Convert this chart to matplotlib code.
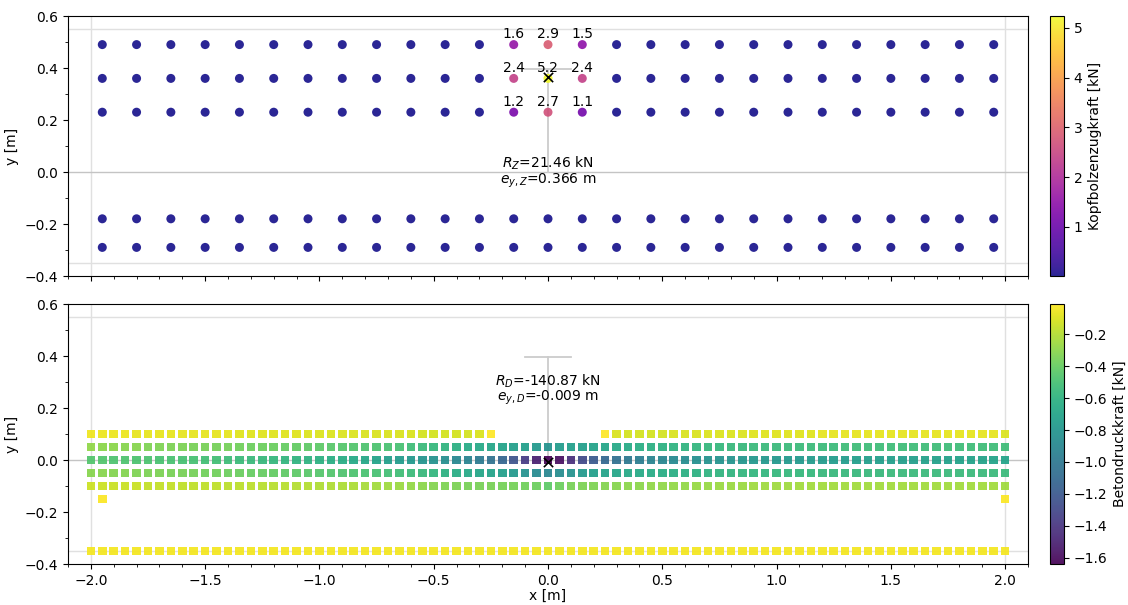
import numpy as np
import matplotlib
matplotlib.use("Agg")
import matplotlib.pyplot as plt
from matplotlib.ticker import MultipleLocator

# ---------------- data: head studs (top) ----------------
stud_x = [-1.95, -1.8, -1.65, -1.5, -1.35, -1.2, -1.05, -0.9, -0.75, -0.6, -0.45, -0.3, -0.15,
          0.0, 0.15, 0.3, 0.45, 0.6, 0.75, 0.9, 1.05, 1.2, 1.35, 1.5, 1.65, 1.8, 1.95]
stud_y = [0.49, 0.36, 0.23, -0.18, -0.29]
stud_force = [
    [0.02, 0.02, 0.02, 0.02, 0.02, 0.02, 0.02, 0.02, 0.02, 0.02, 0.02, 0.02, 1.6,
     2.9, 1.5, 0.02, 0.02, 0.02, 0.02, 0.02, 0.02, 0.02, 0.02, 0.02, 0.02, 0.02, 0.02],
    [0.02, 0.02, 0.02, 0.02, 0.02, 0.02, 0.02, 0.02, 0.02, 0.02, 0.02, 0.02, 2.4,
     5.24, 2.4, 0.02, 0.02, 0.02, 0.02, 0.02, 0.02, 0.02, 0.02, 0.02, 0.02, 0.02, 0.02],
    [0.02, 0.02, 0.02, 0.02, 0.02, 0.02, 0.02, 0.02, 0.02, 0.02, 0.02, 0.02, 1.2,
     2.7, 1.1, 0.02, 0.02, 0.02, 0.02, 0.02, 0.02, 0.02, 0.02, 0.02, 0.02, 0.02, 0.02],
    [0.01, 0.01, 0.01, 0.01, 0.01, 0.01, 0.01, 0.01, 0.01, 0.01, 0.01, 0.01, 0.01,
     0.01, 0.01, 0.01, 0.01, 0.01, 0.01, 0.01, 0.01, 0.01, 0.01, 0.01, 0.01, 0.01, 0.01],
    [0.01, 0.01, 0.01, 0.01, 0.01, 0.01, 0.01, 0.01, 0.01, 0.01, 0.01, 0.01, 0.01,
     0.01, 0.01, 0.01, 0.01, 0.01, 0.01, 0.01, 0.01, 0.01, 0.01, 0.01, 0.01, 0.01, 0.01],
]
RZ = 21.46
eyZ = 0.366

# ---------------- data: concrete compression (bottom) ----------------
grid_x = [round(-2.0 + 0.05 * i, 2) for i in range(81)]
row_p10_left_x = grid_x[:36]
row_p10_right_x = grid_x[45:]
row_p10_left = [-0.05, -0.06, -0.06, -0.06, -0.07, -0.07, -0.07, -0.07, -0.08, -0.08,
                -0.08, -0.08, -0.08, -0.09, -0.09, -0.09, -0.09, -0.09, -0.09, -0.10,
                -0.10, -0.10, -0.10, -0.10, -0.11, -0.11, -0.11, -0.11, -0.11, -0.12,
                -0.12, -0.12, -0.12, -0.12, -0.11, -0.01]
row_p10_right = [-0.01, -0.11, -0.12, -0.12, -0.12, -0.12, -0.11, -0.11, -0.11, -0.10,
                 -0.10, -0.10, -0.10, -0.09, -0.09, -0.09, -0.09, -0.09, -0.09, -0.08,
                 -0.08, -0.08, -0.08, -0.08, -0.08, -0.08, -0.08, -0.08, -0.08, -0.08,
                 -0.08, -0.08, -0.08, -0.08, -0.08, -0.10]
row_p05 = [-0.29, -0.30, -0.30, -0.31, -0.31, -0.33, -0.33, -0.34, -0.34, -0.35,
           -0.35, -0.36, -0.36, -0.37, -0.38, -0.38, -0.39, -0.40, -0.41, -0.42,
           -0.43, -0.44, -0.45, -0.46, -0.47, -0.48, -0.49, -0.50, -0.53, -0.55,
           -0.57, -0.59, -0.62, -0.65, -0.67, -0.69, -0.71, -0.73, -0.74, -0.77,
           -0.82,
           -0.76, -0.74, -0.73, -0.71, -0.69, -0.67, -0.65, -0.63, -0.62, -0.61,
           -0.60, -0.59, -0.58, -0.57, -0.57, -0.56, -0.56, -0.55, -0.55, -0.55,
           -0.54, -0.54, -0.54, -0.54, -0.54, -0.53, -0.53, -0.53, -0.53, -0.53,
           -0.53, -0.53, -0.53, -0.53, -0.53, -0.53, -0.53, -0.53, -0.53, -0.53]
row_000 = [-0.46, -0.46, -0.47, -0.47, -0.48, -0.48, -0.49, -0.49, -0.50, -0.50,
           -0.51, -0.51, -0.53, -0.54, -0.55, -0.56, -0.57, -0.58, -0.59, -0.60,
           -0.61, -0.63, -0.64, -0.66, -0.68, -0.70, -0.73, -0.76, -0.78, -0.80,
           -0.82, -0.85, -0.89, -0.93, -0.98, -1.04, -1.12, -1.23, -1.37, -1.51,
           -1.64,
           -1.58, -1.43, -1.29, -1.20, -1.11, -1.05, -1.00, -0.96, -0.92, -0.90,
           -0.88, -0.86, -0.84, -0.82, -0.81, -0.80, -0.79, -0.78, -0.78, -0.78,
           -0.77, -0.77, -0.76, -0.76, -0.75, -0.75, -0.74, -0.74, -0.74, -0.73,
           -0.73, -0.73, -0.72, -0.72, -0.72, -0.71, -0.71, -0.71, -0.70, -0.70]
row_m05 = [-0.31, -0.31, -0.32, -0.32, -0.33, -0.34, -0.34, -0.35, -0.35, -0.36,
           -0.37, -0.37, -0.38, -0.39, -0.40, -0.40, -0.41, -0.42, -0.43, -0.44,
           -0.45, -0.46, -0.47, -0.48, -0.49, -0.50, -0.51, -0.52, -0.54, -0.56,
           -0.58, -0.61, -0.64, -0.67, -0.69, -0.71, -0.74, -0.78, -0.83, -0.87,
           -0.90,
           -0.86, -0.82, -0.77, -0.74, -0.71, -0.69, -0.67, -0.66, -0.65, -0.64,
           -0.63, -0.62, -0.61, -0.60, -0.59, -0.59, -0.58, -0.58, -0.58, -0.57,
           -0.57, -0.57, -0.57, -0.56, -0.56, -0.56, -0.56, -0.56, -0.56, -0.55,
           -0.55, -0.55, -0.55, -0.55, -0.55, -0.55, -0.55, -0.55, -0.55, -0.55]
row_m10 = [-0.14, -0.14, -0.15, -0.15, -0.15, -0.16, -0.16, -0.16, -0.17, -0.17,
           -0.17, -0.17, -0.18, -0.18, -0.18, -0.19, -0.19, -0.19, -0.20, -0.20,
           -0.21, -0.21, -0.22, -0.22, -0.23, -0.24, -0.25, -0.26, -0.28, -0.30,
           -0.32, -0.33, -0.34, -0.35, -0.35, -0.35, -0.36, -0.36, -0.37, -0.38,
           -0.43,
           -0.38, -0.35, -0.34, -0.33, -0.32, -0.31, -0.30, -0.30, -0.29, -0.29,
           -0.28, -0.28, -0.27, -0.27, -0.26, -0.26, -0.26, -0.25, -0.25, -0.25,
           -0.25, -0.24, -0.24, -0.24, -0.24, -0.24, -0.24, -0.24, -0.24, -0.24,
           -0.24, -0.24, -0.24, -0.24, -0.24, -0.24, -0.24, -0.24, -0.24, -0.25]
row_m35 = [-0.04] * 81
single_x = [-1.95, 2.0]
single_y = [-0.15, -0.15]
single_v = [-0.02, -0.02]
RD = -140.87
eyD = -0.009

# ---------------- figure ----------------
W, H = 1128, 605
fig = plt.figure(figsize=(W / 100, H / 100), dpi=100)

def fx(px):
    return px / W

def fy(py_top, py_bot):
    return (H - py_bot) / H, (py_bot - py_top) / H

ax_l, ax_r = 68, 1028
b1, h1 = fy(16, 276)
b2, h2 = fy(304, 564)
ax1 = fig.add_axes([fx(ax_l), b1, fx(ax_r - ax_l), h1])
ax2 = fig.add_axes([fx(ax_l), b2, fx(ax_r - ax_l), h2], sharex=ax1)
cax1 = fig.add_axes([fx(1050), b1, fx(14), h1])
cax2 = fig.add_axes([fx(1050), b2, fx(14), h2])

def decorate(ax):
    for yy in (0.55, -0.35):
        ax.axhline(yy, color="#e0e0e0", lw=1.0, zorder=0)
    for xx in (-2.0, 2.0):
        ax.axvline(xx, color="#e0e0e0", lw=1.0, zorder=0)
    ax.axhline(0.0, color="#c4c4c4", lw=1.0, zorder=0)
    ax.plot([-0.1, 0.1], [0.395, 0.395], color="#cccccc", lw=1.3, zorder=0)
    ax.plot([0.0, 0.0], [0.0, 0.395], color="#cccccc", lw=1.3, zorder=0)
    ax.set_xlim(-2.1, 2.1)
    ax.set_ylim(-0.4, 0.6)
    ax.xaxis.set_major_locator(MultipleLocator(0.5))
    ax.xaxis.set_minor_locator(MultipleLocator(0.1))
    ax.yaxis.set_major_locator(MultipleLocator(0.2))
    ax.yaxis.set_minor_locator(MultipleLocator(0.1))
    ax.set_ylabel("y [m]")

TOP_ALPHA = 0.88

# top
decorate(ax1)
sx, sy, sv = [], [], []
for j, yy in enumerate(stud_y):
    for i, xx in enumerate(stud_x):
        sx.append(xx); sy.append(yy); sv.append(stud_force[j][i])
sc1 = ax1.scatter(sx, sy, c=sv, cmap="plasma", s=42, zorder=3, linewidths=0,
                  alpha=TOP_ALPHA)
for xx, yy, vv in zip(sx, sy, sv):
    if vv > 0.5:
        ax1.annotate(f"{vv:.1f}", (xx, yy), xytext=(0, 7.5), textcoords="offset points",
                     ha="center", va="center", fontsize=10, zorder=5)
ax1.scatter([0.0], [eyZ], marker="x", color="black", s=45, lw=1.2, zorder=6)
ax1.text(0.0, 0.0, f"$R_Z$={RZ:.2f} kN\n$e_{{y,Z}}$={eyZ:.3f} m", ha="center",
         va="center", fontsize=10, linespacing=0.95, zorder=6)
ax1.tick_params(labelbottom=False)
cb1 = fig.colorbar(sc1, cax=cax1)
cb1.set_label("Kopfbolzenzugkraft [kN]")
cb1.solids.set_alpha(TOP_ALPHA)

# bottom
decorate(ax2)
bx = list(row_p10_left_x) + list(row_p10_right_x) + grid_x * 4 + single_x
by = ([0.1] * (len(row_p10_left_x) + len(row_p10_right_x)) + [0.05] * 81 + [0.0] * 81
      + [-0.05] * 81 + [-0.1] * 81 + single_y)
bv = row_p10_left + row_p10_right + row_p05 + row_000 + row_m05 + row_m10 + single_v
bx += grid_x
by += [-0.35] * 81
bv += row_m35
sc2 = ax2.scatter(bx, by, c=bv, cmap="viridis", marker="s", s=38, alpha=0.92,
                  linewidths=0, zorder=3)
ax2.scatter([0.0], [eyD], marker="x", color="black", s=45, lw=1.2, zorder=6)
ax2.text(0.0, 0.27, f"$R_D$={RD:.2f} kN\n$e_{{y,D}}$={eyD:.3f} m", ha="center",
         va="center", fontsize=10, linespacing=0.95, zorder=6)
ax2.set_xlabel("x [m]", labelpad=1)
cb2 = fig.colorbar(sc2, cax=cax2)
cb2.set_label("Betondruckkraft [kN]")
cb2.solids.set_alpha(0.92)

fig.savefig("out.png", dpi=100)
